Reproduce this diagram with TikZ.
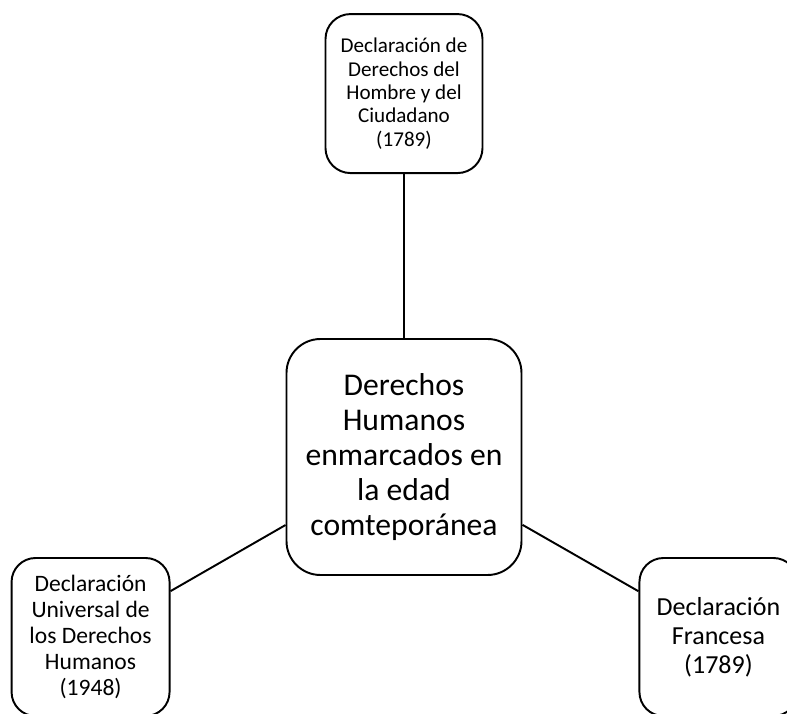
\documentclass[tikz,border=0pt]{standalone}
\usepackage{fontspec}
\setmainfont{Carlito}
\usepackage{tikz}
\usetikzlibrary{positioning}
\tikzstyle{box} = [rectangle, draw, line width=1.1pt, align=center, inner sep=0pt, fill=white]
\tikzstyle{link} = [line width=1.1pt]

\begin{document}
\begin{tikzpicture}
\useasboundingbox (-8.08,-5.12) rectangle (7.66,9.14);
\clip (-8.08,-5.12) rectangle (7.66,9.14);
\node [box, rounded corners=0.68cm, minimum width=4.7cm, minimum height=4.72cm, font=\fontsize{18}{19.9}\selectfont] (mid) at (0,0) {Derechos\\Humanos\\enmarcados en\\la edad\\comteporánea};
\node [box, rounded corners=0.5cm, minimum width=3.14cm, minimum height=3.18cm, font=\fontsize{12}{13.3}\selectfont] (top) [above=3.28cm of mid] {Declaración de\\Derechos del\\Hombre y del\\Ciudadano\\(1789)};
\node [box, rounded corners=0.48cm, minimum width=3.16cm, minimum height=3.16cm, font=\fontsize{13.4}{14.7}\selectfont] (lft) [left=2.3cm of mid, yshift=-3.6cm] {Declaración\\Universal de\\los Derechos\\Humanos\\(1948)};
\node [box, rounded corners=0.48cm, minimum width=3.16cm, minimum height=3.16cm, font=\fontsize{14.8}{16.5}\selectfont] (rgt) [right=2.32cm of mid, yshift=-3.6cm] {Declaración\\Francesa\\(1789)};
\draw [link] (top) to (mid);
\draw [link] (mid) to (lft);
\draw [link] (mid) to (rgt);
\end{tikzpicture}
\end{document}
